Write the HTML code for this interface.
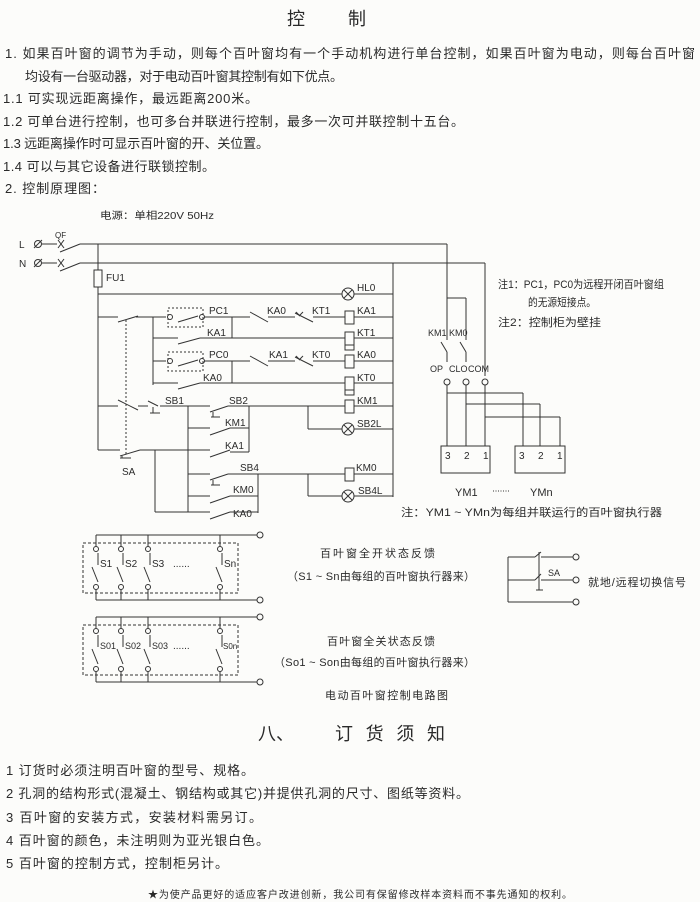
<!DOCTYPE html>
<html><head><meta charset="utf-8"><style>
html,body{margin:0;padding:0;background:#fcfcfa;}
svg{display:block;}
text{font-family:"Liberation Sans","Noto Sans CJK SC",sans-serif;fill:#2a2a2a;}
.m{font-family:"Liberation Mono","Noto Sans CJK SC",monospace;font-size:10px;fill:#333;}
</style></head><body>
<svg width="700" height="902" viewBox="0 0 700 902" xmlns="http://www.w3.org/2000/svg">
<g font-size="13">
<text x="287" y="25" font-size="18">控</text><text x="348" y="25" font-size="18">制</text>
<text x="5" y="58" textLength="690" lengthAdjust="spacing">1.  如果百叶窗的调节为手动，则每个百叶窗均有一个手动机构进行单台控制，如果百叶窗为电动，则每台百叶窗</text>
<text x="25" y="81" textLength="318" lengthAdjust="spacing">均设有一台驱动器，对于电动百叶窗其控制有如下优点。</text>
<text x="3" y="103" textLength="255" lengthAdjust="spacing">1.1 可实现远距离操作，最远距离200米。</text>
<text x="3" y="126" textLength="461" lengthAdjust="spacing">1.2 可单台进行控制，也可多台并联进行控制，最多一次可并联控制十五台。</text>
<text x="3" y="148" textLength="266" lengthAdjust="spacing">1.3 远距离操作时可显示百叶窗的开、关位置。</text>
<text x="3" y="171" textLength="212" lengthAdjust="spacing">1.4 可以与其它设备进行联锁控制。</text>
<text x="5" y="193" textLength="100" lengthAdjust="spacing">2.  控制原理图：</text>
<text x="100" y="219" font-size="10" textLength="114" lengthAdjust="spacingAndGlyphs">电源：单相220V 50Hz</text>
</g>
<g stroke="#333" stroke-width="1" fill="none">
<line x1="42" y1="244" x2="57" y2="244"/><line x1="42" y1="263" x2="57" y2="263"/>
<circle cx="38" cy="244" r="3.5"/><line x1="34" y1="248" x2="42" y2="240"/>
<circle cx="38" cy="263" r="3.5"/><line x1="34" y1="267" x2="42" y2="259"/>
<line x1="58" y1="240" x2="64" y2="248"/><line x1="64" y1="240" x2="58" y2="248"/>
<line x1="58" y1="259" x2="64" y2="267"/><line x1="64" y1="259" x2="58" y2="267"/>
<line x1="60" y1="252" x2="80" y2="244"/><line x1="60" y1="271" x2="80" y2="263"/>
<line x1="80" y1="244" x2="447" y2="244"/><line x1="80" y1="263" x2="485" y2="263"/>
<line x1="98" y1="244" x2="98" y2="450"/>
<rect x="94" y="270" width="8" height="17" fill="#fcfcfa"/>
<line x1="393" y1="263" x2="393" y2="497"/>
<line x1="98" y1="294" x2="342" y2="294"/><line x1="354" y1="294" x2="393" y2="294"/>
<circle cx="348" cy="294" r="6"/><line x1="344" y1="290" x2="352" y2="298"/><line x1="352" y1="290" x2="344" y2="298"/>
<line x1="98" y1="317" x2="118" y2="317"/><line x1="118" y1="322" x2="138" y2="316"/><line x1="136" y1="317" x2="166" y2="317"/>
<rect x="168" y="308" width="35" height="19" stroke-dasharray="2,2"/>
<circle cx="170" cy="317" r="2.5"/><circle cx="202" cy="317" r="2.5"/>
<line x1="178" y1="322" x2="198" y2="316"/><line x1="204" y1="317" x2="250" y2="317"/>
<line x1="250" y1="312" x2="268" y2="322"/><line x1="268" y1="317" x2="295" y2="317"/>
<line x1="295" y1="313" x2="313" y2="322"/><line x1="313" y1="317" x2="345" y2="317"/>
<line x1="296" y1="312" x2="300" y2="316"/><line x1="303" y1="312" x2="299" y2="316"/>
<rect x="345" y="311" width="9" height="13" fill="#fcfcfa"/><line x1="354" y1="317" x2="393" y2="317"/>
<line x1="153" y1="317" x2="153" y2="385"/><line x1="232" y1="317" x2="232" y2="338"/>
<line x1="153" y1="338" x2="178" y2="338"/><line x1="178" y1="344" x2="200" y2="338"/><line x1="200" y1="338" x2="345" y2="338"/>
<rect x="345" y="332" width="9" height="13" fill="#fcfcfa"/><rect x="345" y="345" width="9" height="5"/>
<line x1="354" y1="338" x2="393" y2="338"/>
<line x1="153" y1="361" x2="166" y2="361"/>
<rect x="168" y="352" width="35" height="19" stroke-dasharray="2,2"/>
<circle cx="170" cy="361" r="2.5"/><circle cx="202" cy="361" r="2.5"/>
<line x1="178" y1="366" x2="198" y2="360"/><line x1="204" y1="361" x2="250" y2="361"/>
<line x1="250" y1="356" x2="268" y2="366"/><line x1="268" y1="361" x2="295" y2="361"/>
<line x1="295" y1="357" x2="313" y2="366"/><line x1="313" y1="361" x2="345" y2="361"/>
<line x1="296" y1="356" x2="300" y2="360"/><line x1="303" y1="356" x2="299" y2="360"/>
<rect x="345" y="355" width="9" height="13" fill="#fcfcfa"/><line x1="354" y1="361" x2="393" y2="361"/>
<line x1="232" y1="361" x2="232" y2="383"/>
<line x1="153" y1="383" x2="178" y2="383"/><line x1="178" y1="389" x2="200" y2="383"/><line x1="200" y1="383" x2="345" y2="383"/>
<rect x="345" y="377" width="9" height="13" fill="#fcfcfa"/><rect x="345" y="390" width="9" height="5"/>
<line x1="354" y1="383" x2="393" y2="383"/>
<line x1="126" y1="320" x2="126" y2="455" stroke-dasharray="2,2"/>
<line x1="98" y1="406" x2="118" y2="406"/><line x1="118" y1="400" x2="138" y2="410"/><line x1="138" y1="406" x2="148" y2="406"/>
<line x1="148" y1="401" x2="158" y2="406"/><line x1="153" y1="407" x2="153" y2="413"/><line x1="150" y1="413" x2="160" y2="413"/>
<line x1="160" y1="406" x2="210" y2="406"/>
<line x1="210" y1="412" x2="228" y2="406"/><line x1="213" y1="412" x2="213" y2="417"/><line x1="211" y1="417" x2="220" y2="417"/>
<line x1="228" y1="406" x2="345" y2="406"/>
<rect x="345" y="400" width="9" height="13" fill="#fcfcfa"/><line x1="354" y1="406" x2="393" y2="406"/>
<line x1="188" y1="406" x2="188" y2="512"/><line x1="249" y1="406" x2="249" y2="452"/>
<line x1="308" y1="406" x2="308" y2="429"/><line x1="308" y1="429" x2="342" y2="429"/><line x1="354" y1="429" x2="393" y2="429"/>
<circle cx="348" cy="429" r="6"/><line x1="344" y1="425" x2="352" y2="433"/><line x1="352" y1="425" x2="344" y2="433"/>
<line x1="188" y1="428" x2="210" y2="428"/><line x1="210" y1="435" x2="230" y2="428"/><line x1="230" y1="428" x2="249" y2="428"/>
<line x1="98" y1="450" x2="120" y2="450"/><line x1="120" y1="456" x2="140" y2="450"/><line x1="140" y1="450" x2="210" y2="450"/>
<line x1="122" y1="456" x2="122" y2="458"/><line x1="120" y1="458" x2="131" y2="458"/>
<line x1="210" y1="457" x2="230" y2="450"/><line x1="230" y1="452" x2="249" y2="452"/>
<line x1="155" y1="450" x2="155" y2="512"/>
<line x1="188" y1="474" x2="210" y2="474"/>
<line x1="210" y1="480" x2="228" y2="474"/><line x1="213" y1="480" x2="213" y2="485"/><line x1="211" y1="485" x2="220" y2="485"/>
<line x1="228" y1="474" x2="345" y2="474"/>
<rect x="345" y="468" width="9" height="13" fill="#fcfcfa"/><line x1="354" y1="474" x2="393" y2="474"/>
<line x1="258" y1="474" x2="258" y2="513"/>
<line x1="308" y1="474" x2="308" y2="496"/><line x1="308" y1="496" x2="342" y2="496"/><line x1="354" y1="496" x2="393" y2="496"/>
<circle cx="348" cy="496" r="6"/><line x1="344" y1="492" x2="352" y2="500"/><line x1="352" y1="492" x2="344" y2="500"/>
<line x1="188" y1="496" x2="210" y2="496"/><line x1="210" y1="503" x2="230" y2="496"/><line x1="230" y1="496" x2="258" y2="496"/>
<line x1="155" y1="512" x2="210" y2="512"/><line x1="210" y1="519" x2="230" y2="512"/><line x1="230" y1="512" x2="258" y2="512"/>
<line x1="447" y1="244" x2="447" y2="340"/>
<line x1="447" y1="298" x2="466" y2="298"/><line x1="466" y1="298" x2="466" y2="340"/>
<line x1="441" y1="342" x2="447" y2="352"/><line x1="460" y1="342" x2="466" y2="352"/>
<line x1="447" y1="352" x2="447" y2="362"/><line x1="466" y1="352" x2="466" y2="362"/>
<line x1="485" y1="263" x2="485" y2="376"/>
<circle cx="447" cy="382" r="3"/><circle cx="466" cy="382" r="3"/><circle cx="485" cy="382" r="3"/>
<line x1="447" y1="385" x2="447" y2="446"/><line x1="466" y1="385" x2="466" y2="446"/><line x1="485" y1="385" x2="485" y2="446"/>
<line x1="447" y1="393" x2="523" y2="393"/><line x1="523" y1="393" x2="523" y2="446"/>
<line x1="466" y1="404" x2="540" y2="404"/><line x1="540" y1="404" x2="540" y2="446"/>
<line x1="485" y1="417" x2="560" y2="417"/><line x1="560" y1="417" x2="560" y2="446"/>
<rect x="441" y="446" width="49" height="27"/><rect x="515" y="446" width="50" height="27"/>
<line x1="493" y1="491" x2="510" y2="491" stroke-dasharray="1,1.5"/>
<line x1="96" y1="535" x2="257" y2="535"/><circle cx="260" cy="535" r="3"/>
<line x1="96" y1="600" x2="257" y2="600"/><circle cx="260" cy="600" r="3"/>
<rect x="83" y="543" width="155" height="50" stroke-dasharray="3,2"/>
<g id="g1">
<line x1="96" y1="535" x2="96" y2="546"/><line x1="121" y1="535" x2="121" y2="546"/><line x1="148" y1="535" x2="148" y2="546"/><line x1="220" y1="535" x2="220" y2="546"/>
<line x1="96" y1="590" x2="96" y2="600"/><line x1="121" y1="590" x2="121" y2="600"/><line x1="148" y1="590" x2="148" y2="600"/><line x1="220" y1="590" x2="220" y2="600"/>
<circle cx="96" cy="549" r="2.5"/><circle cx="121" cy="549" r="2.5"/><circle cx="148" cy="549" r="2.5"/><circle cx="220" cy="549" r="2.5"/>
<circle cx="96" cy="587" r="2.5"/><circle cx="121" cy="587" r="2.5"/><circle cx="148" cy="587" r="2.5"/><circle cx="220" cy="587" r="2.5"/>
<line x1="92" y1="567" x2="98" y2="582"/><line x1="117" y1="567" x2="123" y2="582"/><line x1="144" y1="567" x2="150" y2="582"/><line x1="216" y1="567" x2="222" y2="582"/>
<line x1="98" y1="553" x2="98" y2="565"/><line x1="123" y1="553" x2="123" y2="565"/><line x1="150" y1="553" x2="150" y2="565"/><line x1="222" y1="553" x2="222" y2="565"/>
</g>
<line x1="96" y1="617" x2="257" y2="617"/><circle cx="260" cy="617" r="3"/>
<line x1="96" y1="682" x2="257" y2="682"/><circle cx="260" cy="682" r="3"/>
<rect x="83" y="625" width="155" height="50" stroke-dasharray="3,2"/>
<use href="#g1" transform="translate(0,82)"/>
<line x1="508" y1="557" x2="508" y2="602"/>
<line x1="508" y1="557" x2="535" y2="557"/><line x1="535" y1="557" x2="541" y2="552"/><line x1="541" y1="557" x2="573" y2="557"/><circle cx="576" cy="557" r="3"/>
<line x1="508" y1="580" x2="535" y2="580"/><line x1="535" y1="580" x2="541" y2="574"/><line x1="541" y1="580" x2="573" y2="580"/><circle cx="576" cy="580" r="3"/>
<line x1="539" y1="552" x2="539" y2="590"/><line x1="536" y1="590" x2="543" y2="590"/>
<line x1="508" y1="602" x2="573" y2="602"/><circle cx="576" cy="602" r="3"/>
</g>
<g class="m">
<text x="19" y="248">L</text><text x="19" y="267">N</text><text x="55" y="238" font-size="8">QF</text>
<text x="106" y="281">FU1</text><text x="357" y="291">HL0</text>
<text x="209" y="314">PC1</text><text x="267" y="314">KA0</text><text x="312" y="314">KT1</text><text x="357" y="314">KA1</text>
<text x="207" y="336">KA1</text><text x="357" y="336">KT1</text>
<text x="209" y="358">PC0</text><text x="269" y="358">KA1</text><text x="312" y="358">KT0</text><text x="357" y="358">KA0</text>
<text x="203" y="381">KA0</text><text x="357" y="381">KT0</text>
<text x="165" y="404">SB1</text><text x="229" y="404">SB2</text><text x="357" y="404">KM1</text>
<text x="225" y="426">KM1</text><text x="357" y="427">SB2L</text>
<text x="225" y="449">KA1</text>
<text x="122" y="475">SA</text>
<text x="240" y="471">SB4</text><text x="356" y="471">KM0</text>
<text x="233" y="493">KM0</text><text x="358" y="494">SB4L</text>
<text x="233" y="517">KA0</text>
<text x="428" y="336" font-size="9">KM1</text><text x="449" y="336" font-size="9">KM0</text>
<text x="430" y="372" font-size="9">OP</text><text x="449" y="372" font-size="9">CLO</text><text x="468" y="372" font-size="9">COM</text>
<text x="445" y="459">3</text><text x="464" y="459">2</text><text x="483" y="459">1</text>
<text x="519" y="459">3</text><text x="538" y="459">2</text><text x="557" y="459">1</text>
<text x="455" y="496" font-size="11">YM1</text><text x="530" y="496" font-size="11">YMn</text>
<text x="100" y="567">S1</text><text x="125" y="567">S2</text><text x="152" y="567">S3</text><text x="173" y="567">......</text><text x="224" y="567">Sn</text>
<text x="100" y="649" font-size="9">S01</text><text x="125" y="649" font-size="9">S02</text><text x="152" y="649" font-size="9">S03</text><text x="173" y="649">......</text><text x="223" y="649" font-size="8">S0n</text>
<text x="548" y="576" font-size="9">SA</text>
</g>
<g font-size="11">
<text x="498" y="288" textLength="166" lengthAdjust="spacingAndGlyphs">注1：PC1，PC0为远程开闭百叶窗组</text>
<text x="528" y="306" textLength="68" lengthAdjust="spacingAndGlyphs">的无源短接点。</text>
<text x="498" y="326" textLength="103" lengthAdjust="spacingAndGlyphs">注2：控制柜为壁挂</text>
<text x="401" y="516" textLength="261" lengthAdjust="spacingAndGlyphs">注：YM1 ~ YMn为每组并联运行的百叶窗执行器</text>
<text x="320" y="557" textLength="115" lengthAdjust="spacing">百叶窗全开状态反馈</text>
<text x="287" y="580" textLength="188" lengthAdjust="spacing">（S1 ~ Sn由每组的百叶窗执行器来）</text>
<text x="327" y="645" textLength="108" lengthAdjust="spacing">百叶窗全关状态反馈</text>
<text x="274" y="666" textLength="201" lengthAdjust="spacing">（So1 ~ Son由每组的百叶窗执行器来）</text>
<text x="325" y="699" textLength="123" lengthAdjust="spacing">电动百叶窗控制电路图</text>
<text x="588" y="586" textLength="98" lengthAdjust="spacing">就地/远程切换信号</text>
</g>
<g font-size="13">
<text x="258" y="740" font-size="18">八、</text>
<text x="335" y="740" font-size="18" textLength="110" lengthAdjust="spacing">订货须知</text>
<text x="6" y="775" textLength="248" lengthAdjust="spacing">1  订货时必须注明百叶窗的型号、规格。</text>
<text x="6" y="798" textLength="463" lengthAdjust="spacing">2  孔洞的结构形式(混凝土、钢结构或其它)并提供孔洞的尺寸、图纸等资料。</text>
<text x="6" y="822" textLength="256" lengthAdjust="spacing">3  百叶窗的安装方式，安装材料需另订。</text>
<text x="6" y="845" textLength="263" lengthAdjust="spacing">4  百叶窗的颜色，未注明则为亚光银白色。</text>
<text x="6" y="868" textLength="222" lengthAdjust="spacing">5  百叶窗的控制方式，控制柜另计。</text>
<text x="148" y="898" font-size="10" textLength="424" lengthAdjust="spacing">★为使产品更好的适应客户改进创新，我公司有保留修改样本资料而不事先通知的权利。</text>
</g>
</svg>
</body></html>
